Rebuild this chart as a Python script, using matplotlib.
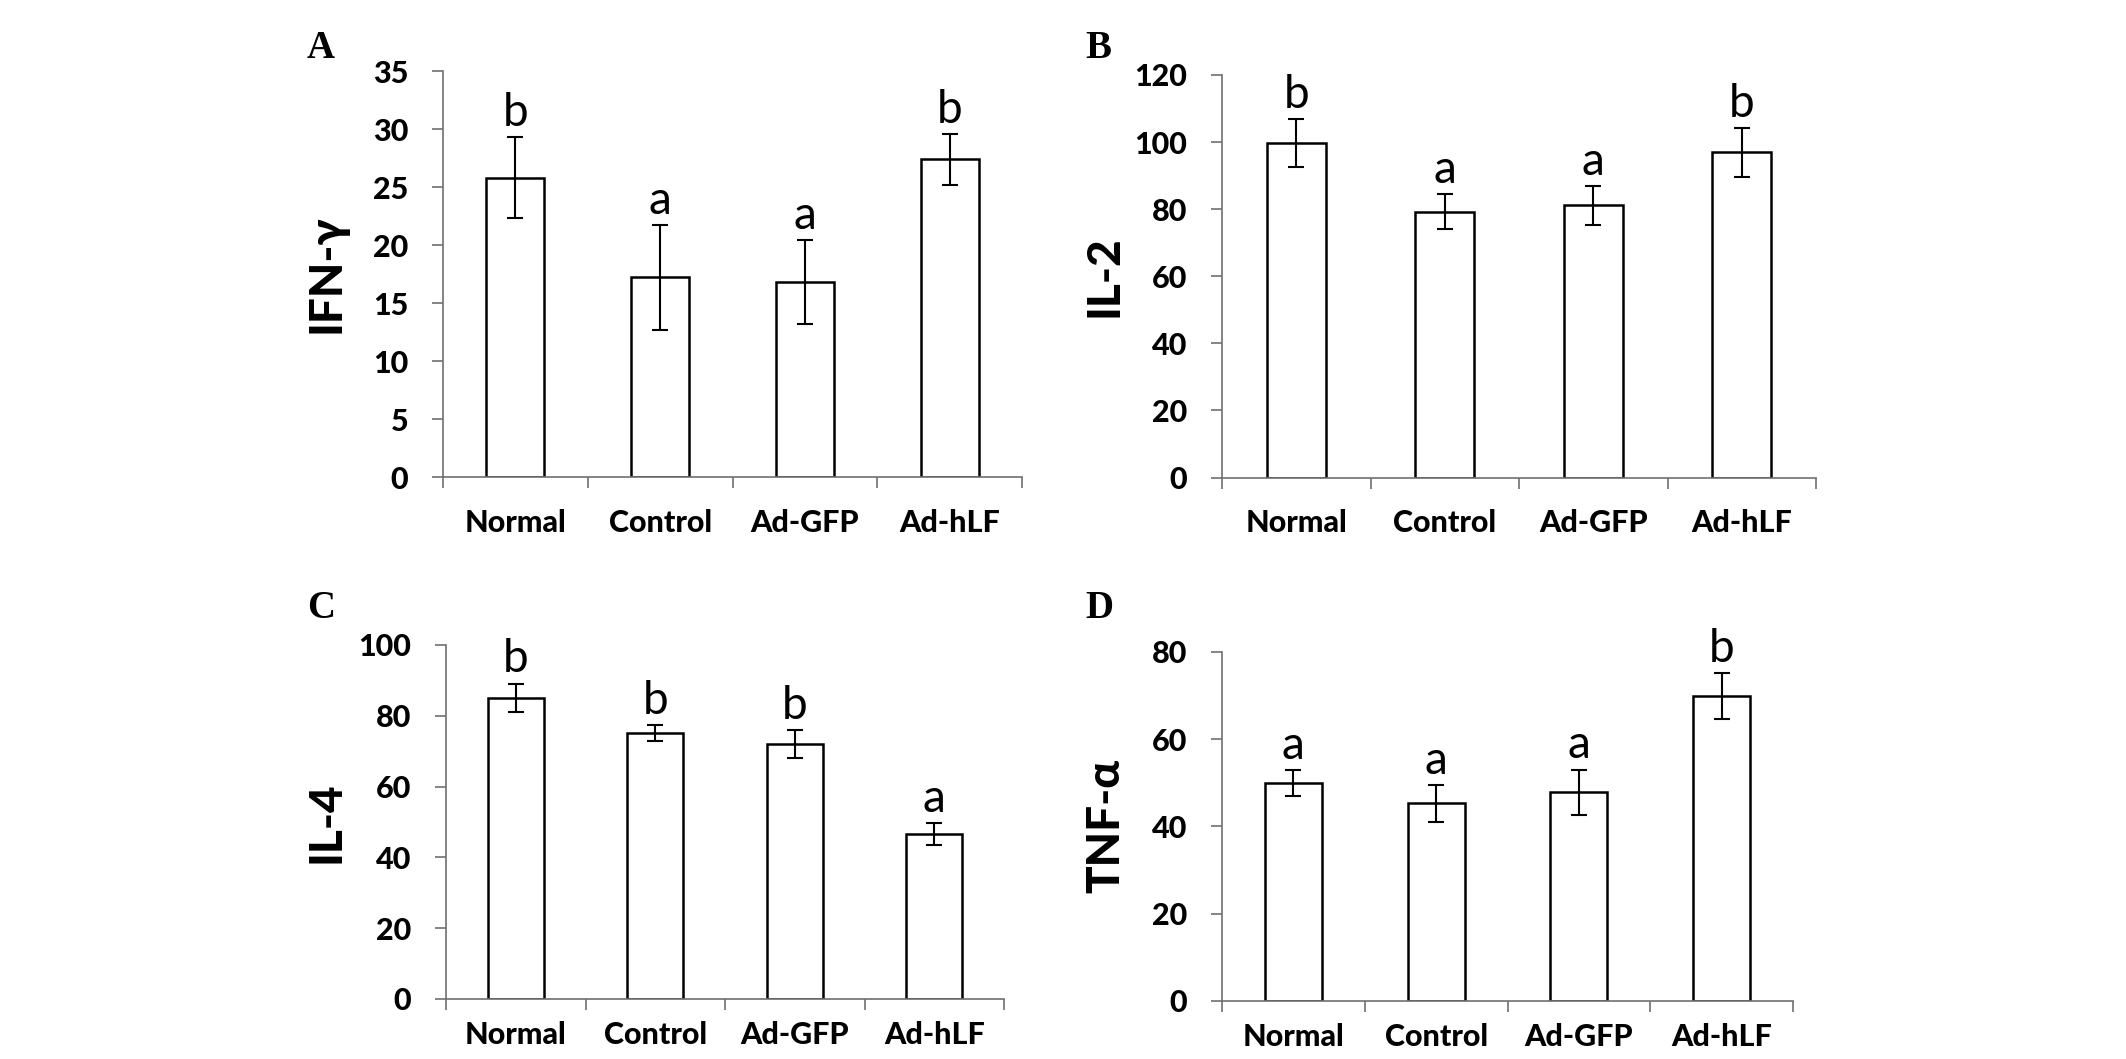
import matplotlib
matplotlib.use("Agg")
import matplotlib.pyplot as plt
import numpy as np

plt.rcParams['font.family'] = ['Lato', 'DejaVu Sans']

# groups on the x axis (same for every panel)
groups = ["Normal", "Control", "Ad-GFP", "Ad-hLF"]

# panel A - IFN-gamma
ifn_mean = [25.8, 17.2, 16.8, 27.4]
ifn_err = [3.5, 4.5, 3.6, 2.2]
ifn_sig = ["b", "a", "a", "b"]

# panel B - IL-2
il2_mean = [99.8, 79.2, 81.2, 96.9]
il2_err = [7.1, 5.2, 5.8, 7.2]
il2_sig = ["b", "a", "a", "b"]

# panel C - IL-4
il4_mean = [85.1, 75.2, 72.0, 46.6]
il4_err = [4.0, 2.2, 4.0, 3.0]
il4_sig = ["b", "b", "b", "a"]

# panel D - TNF-alpha
tnf_mean = [49.9, 45.3, 47.8, 69.9]
tnf_err = [3.0, 4.2, 5.2, 5.3]
tnf_sig = ["a", "a", "a", "b"]

W, H = 2126, 1059
fig = plt.figure(figsize=(W / 100, H / 100), dpi=100)

axis_col = '#707070'
tick_weight = 'black'


def px_box(left, right, top, bottom):
    # pixel edges -> figure fraction rect
    return [left / W, 1 - bottom / H, (right - left) / W, (bottom - top) / H]


panels = [
    # letter, ylabel, means, errs, sig, ymax, step, rect, letter pos, label x, xlabel pad
    ("A", "IFN-γ", ifn_mean, ifn_err, ifn_sig, 35, 5, px_box(443, 1022, 71, 477), (307, 58), -0.201, 23),
    ("B", "IL-2", il2_mean, il2_err, il2_sig, 120, 20, px_box(1222, 1816, 75, 477.5), (1085, 58), -0.197, 23),
    ("C", "IL-4", il4_mean, il4_err, il4_sig, 100, 20, px_box(446, 1004, 645, 999), (307, 618), -0.214, 16),
    ("D", "TNF-α", tnf_mean, tnf_err, tnf_sig, 80, 20, px_box(1222, 1793, 651.7, 1001), (1085, 618), -0.203, 16),
]

x = np.arange(len(groups))

for letter, ylab, means, errs, sig, ymax, step, rect, lpos, labx, xpad in panels:
    ax = fig.add_axes(rect)
    ax.bar(x, means, width=0.4, color='white', edgecolor='black', linewidth=1.8, zorder=2)
    ax.errorbar(x, means, yerr=errs, fmt='none', ecolor='black', elinewidth=1.5,
                capsize=6, capthick=1.5, zorder=3)
    for xi, m, e, s in zip(x, means, errs, sig):
        ax.annotate(s, (xi, m + e), xytext=(0, 8), textcoords='offset points',
                    ha='center', va='baseline', fontsize=33)

    ax.set_xlim(-0.5, len(groups) - 0.5)
    ax.set_ylim(0, ymax)
    ax.set_yticks(np.arange(0, ymax + 1, step))
    ax.set_xticks(x)
    ax.set_xticklabels(groups)
    ax.set_xticks(np.arange(-0.5, len(groups), 1.0), minor=True)

    for side in ['top', 'right']:
        ax.spines[side].set_visible(False)
    for side in ['left', 'bottom']:
        ax.spines[side].set_color(axis_col)
        ax.spines[side].set_linewidth(1.2)

    ax.tick_params(axis='y', direction='out', length=8, width=1.2, color=axis_col,
                   pad=17, labelsize=22)
    ax.tick_params(axis='x', which='major', length=0, pad=xpad, labelsize=22)
    ax.tick_params(axis='x', which='minor', direction='out', length=8, width=1.2, color=axis_col)
    for lab in ax.get_xticklabels() + ax.get_yticklabels():
        lab.set_fontweight(tick_weight)

    ax.set_ylabel(ylab, fontsize=33, fontweight=tick_weight, va='center')
    ax.yaxis.set_label_coords(labx, 0.5)

    fig.text(lpos[0] / W, 1 - lpos[1] / H, letter, fontsize=28, fontweight='bold',
             family=['Liberation Serif', 'DejaVu Serif'], ha='left', va='baseline')

fig.savefig("out.png", dpi=100, facecolor='white')
